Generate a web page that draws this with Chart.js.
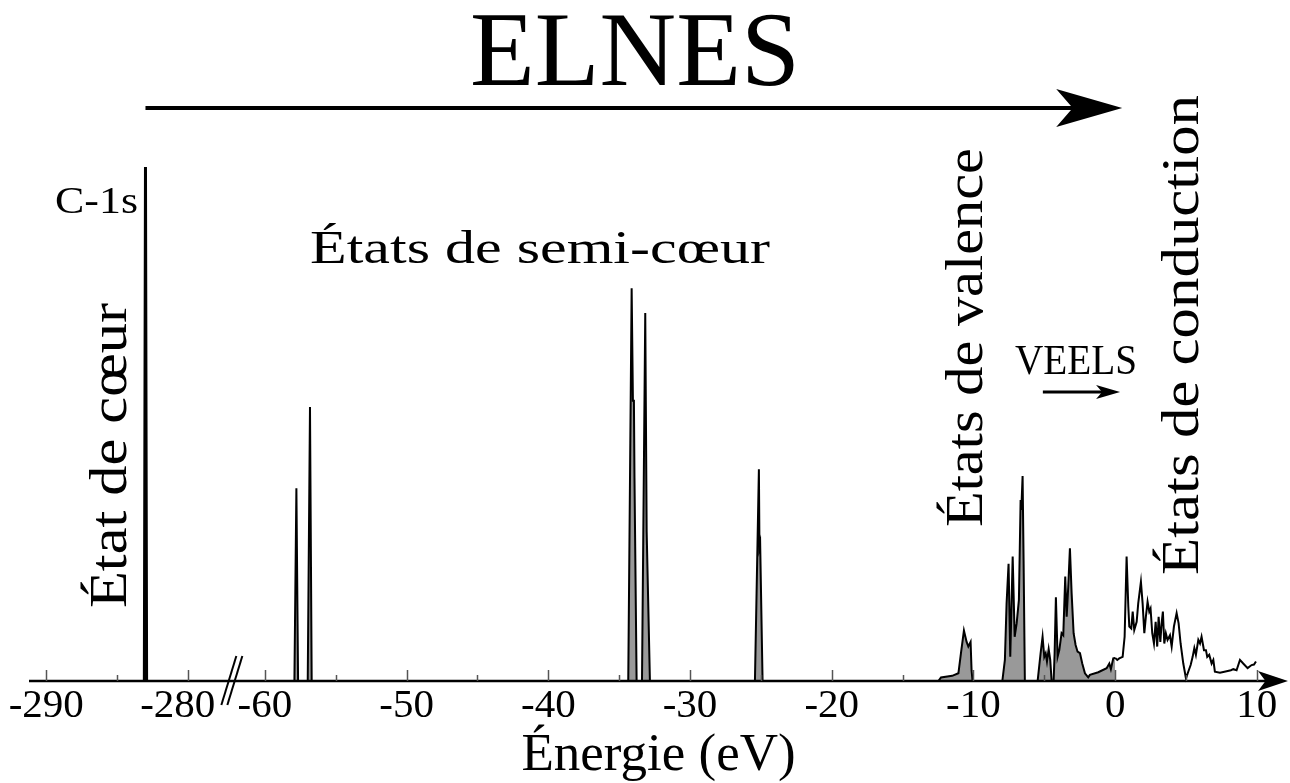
<!DOCTYPE html>
<html>
<head>
<meta charset="utf-8">
<script src="https://cdn.jsdelivr.net/npm/chart.js@4.4.1/dist/chart.umd.min.js"></script>
<style>
  body { margin: 0; background: #fff; }
  #wrap { width: 1290px; height: 783px; }
</style>
</head>
<body>
<div id="wrap"><canvas id="elnes"></canvas></div>
<script>
// C-1s core level (energies in eV, intensity arbitrary)
var coreEnergy = [-283.08, -283.0, -282.92];
var coreIntensity = [0, 1.0, 0];

// semi-core states
var semiCoreEnergy = [-57.92, -57.78, -57.66, -56.98, -56.82, -56.7,
    -34.36, -34.12, -34.03, -33.96, -33.92, -33.77,
    -33.39, -33.16, -33.06, -32.83,
    -25.42, -25.14, -25.1, -25.05, -24.88];
var semiCoreIntensity = [0, 0.375, 0, 0, 0.533, 0,
    0, 0.764, 0.545, 0.545, 0.395, 0,
    0, 0.716, 0.29, 0,
    0, 0.412, 0.26, 0.267, 0];

// valence band (occupied, up to 0 eV)
var valenceEnergy = [-12.6, -12.47, -12.29, -11.5, -11.06, -10.88, -10.67, -10.48, -10.36, -10.2,
    -10.13, -10.06, -7.96, -7.78, -7.66, -7.52, -7.4, -7.23, -7.09, -6.95,
    -6.79, -6.67, -6.62, -6.53, -6.46, -6.37, -5.47, -5.26, -5.12, -5.0,
    -4.9, -4.81, -4.69, -4.58, -4.48, -4.34, -4.27, -4.18, -4.06, -3.94,
    -3.78, -3.66, -3.52, -3.42, -3.31, -3.19, -3.07, -2.93, -2.79, -2.65,
    -2.48, -2.32, -2.13, -1.9, -1.78, -1.19, -0.6, -0.41, -0.3, -0.13, 0];
var valenceIntensity = [0, 0, 0.007, 0.01, 0.015, 0.054, 0.098, 0.076, 0.067, 0.076,
    0.02, 0, 0, 0.041, 0.151, 0.228, 0.047, 0.242, 0.086, 0.112,
    0.158, 0.352, 0.333, 0.399, 0.235, 0, 0, 0.054, 0.086, 0.047,
    0.054, 0.038, 0.062, 0.041, 0, 0, 0.054, 0.163, 0.047, 0.06,
    0.093, 0.089, 0.203, 0.125, 0.183, 0.258, 0.171, 0.093, 0.07, 0.057,
    0.054, 0.034, 0.015, 0.007, 0.012, 0.017, 0.025, 0.034, 0.023, 0.044, 0.045];

// conduction band (empty states)
var conductionEnergy = [0, 0.15, 0.29, 0.53, 0.67, 0.81, 0.93, 1.0, 1.14, 1.24,
    1.35, 1.52, 1.63, 1.82, 1.94, 2.06, 2.17, 2.29, 2.41, 2.5,
    2.62, 2.74, 2.86, 2.97, 3.07, 3.19, 3.28, 3.37, 3.47, 3.58,
    3.7, 3.87, 3.99, 4.15, 4.34, 4.48, 4.62, 4.81, 5.0, 5.16,
    5.33, 5.47, 5.59, 5.7, 5.87, 5.99, 6.1, 6.27, 6.41, 6.5,
    6.64, 6.81, 6.93, 7.04, 7.4, 7.87, 8.17, 8.34, 8.57, 8.81,
    9.04, 9.35, 9.63, 9.8, 9.94];
var conductionIntensity = [0.045, 0.041, 0.044, 0.047, 0.086, 0.242, 0.145, 0.106, 0.102, 0.135,
    0.099, 0.115, 0.151, 0.193, 0.151, 0.093, 0.125, 0.154, 0.135, 0.141,
    0.093, 0.073, 0.115, 0.067, 0.125, 0.076, 0.112, 0.135, 0.073, 0.093,
    0.08, 0.089, 0.067, 0.106, 0.132, 0.112, 0.073, 0.034, 0.005, 0.018,
    0.031, 0.047, 0.064, 0.051, 0.08, 0.073, 0.086, 0.06, 0.06, 0.047,
    0.051, 0.034, 0.041, 0.018, 0.016, 0.019, 0.021, 0.023, 0.021, 0.041,
    0.034, 0.025, 0.031, 0.032, 0.038];

var majorTicks = [-290, -280, -60, -50, -40, -30, -20, -10, 0, 10];
// the -280 label sits a bit left of its tick, before the break mark
var tickLabels = ['-290', '-280\u2002', '-60', '-50', '-40', '-30', '-20', '-10', '0', '10'];
var minorTicks = [-285, -55, -45, -35, -25, -15, -5, 5];

// broken axis: the -290..-280 window is shifted next to -60
var BREAK_SHIFT = 214.57;
var BREAK_AT = -62.3;
var brk = function(e){
    return e < -100 ? e + BREAK_SHIFT : e;
};
var toPoints = function(es, is){
    return es.map(function(e, i){ return {x: brk(e), y: is[i]}; });
};

var majorPos = majorTicks.map(brk);
var minorPos = minorTicks.map(brk);

var SERIF = '"Liberation Serif", "Times New Roman", serif';

// text stretched to a given cap height and width (Computer Modern is wider than Times)
var drawText = function(ctx, str, x, y, cap, width, rotated){
    ctx.font = (cap / 0.66) + 'px ' + SERIF;
    var w = ctx.measureText(str).width;
    ctx.save();
    ctx.translate(x, y);
    if(rotated) ctx.rotate(-Math.PI / 2);
    ctx.scale(width / w, 1);
    ctx.fillStyle = '#000';
    ctx.textAlign = 'left';
    ctx.textBaseline = 'alphabetic';
    ctx.fillText(str, 0, 0);
    ctx.restore();
};

var drawArrow = function(ctx, x1, x2, y, lw, headLen, headHalf){
    ctx.save();
    ctx.strokeStyle = '#000';
    ctx.fillStyle = '#000';
    ctx.lineWidth = lw;
    ctx.beginPath();
    ctx.moveTo(x1, y);
    ctx.lineTo(x2 - headLen * 0.5, y);
    ctx.stroke();
    ctx.beginPath();
    ctx.moveTo(x2, y);
    ctx.lineTo(x2 - headLen, y - headHalf);
    ctx.lineTo(x2 - headLen * 0.75, y);
    ctx.lineTo(x2 - headLen, y + headHalf);
    ctx.closePath();
    ctx.fill();
    ctx.restore();
};

var decorations = {
    id: 'decorations',
    afterDatasetsDraw: function(chart){
        var ctx = chart.ctx;
        var xs = chart.scales.x;
        var y0 = chart.scales.y.getPixelForValue(0);
        var area = chart.chartArea;

        // x axis with arrow
        drawArrow(ctx, area.left, area.right, y0, 2.5, 30, 10);

        // tick marks pointing up
        ctx.save();
        ctx.strokeStyle = '#555';
        ctx.lineWidth = 1.5;
        majorPos.concat(minorPos).forEach(function(v, i){
            var px = Math.round(xs.getPixelForValue(v)) + 0.5;
            var len = i < majorPos.length ? 11 : 6;
            ctx.beginPath();
            ctx.moveTo(px, y0);
            ctx.lineTo(px, y0 - len);
            ctx.stroke();
        });
        ctx.restore();

        // axis break //
        var bx = xs.getPixelForValue(BREAK_AT);
        ctx.save();
        ctx.strokeStyle = '#000';
        ctx.lineWidth = 2;
        [-3, 3].forEach(function(d){
            ctx.beginPath();
            ctx.moveTo(bx + d - 8, y0 + 24);
            ctx.lineTo(bx + d + 7, y0 - 25);
            ctx.stroke();
        });
        ctx.restore();

        // ELNES arrow and VEELS arrow
        drawArrow(ctx, xs.getPixelForValue(brk(-283)), xs.getPixelForValue(0.5), 108, 4, 66, 19);
        drawArrow(ctx, xs.getPixelForValue(-5.1), xs.getPixelForValue(0.35), 392, 3, 24, 7);

        drawText(ctx, 'ELNES', 470, 85, 70, 330, false);
        drawText(ctx, 'C-1s', 55, 213, 25, 83, false);
        drawText(ctx, 'États de semi-cœur', 310, 263, 31, 460, false);
        drawText(ctx, 'VEELS', 1015, 374, 28, 122, false);
        drawText(ctx, 'État de cœur', 126, 608, 35, 305, true);
        drawText(ctx, 'États de valence', 982, 527, 35, 379, true);
        drawText(ctx, 'États de conduction', 1198, 575, 35, 480, true);
    }
};

var lineStyle = {
    borderColor: '#000',
    borderWidth: 2,
    pointRadius: 0,
    tension: 0,
    clip: false
};

var chart = new Chart(document.getElementById('elnes'), {
    type: 'line',
    data: {
        datasets: [
            Object.assign({label: 'C-1s', data: toPoints(coreEnergy, coreIntensity),
                fill: false}, lineStyle, {borderWidth: 3}),
            Object.assign({label: 'Semi-cœur', data: toPoints(semiCoreEnergy, semiCoreIntensity),
                fill: 'origin', backgroundColor: '#999999'}, lineStyle),
            Object.assign({label: 'Valence', data: toPoints(valenceEnergy, valenceIntensity),
                fill: 'origin', backgroundColor: '#999999'}, lineStyle),
            Object.assign({label: 'Conduction', data: toPoints(conductionEnergy, conductionIntensity),
                fill: false}, lineStyle)
        ]
    },
    options: {
        responsive: true,
        maintainAspectRatio: false,
        animation: false,
        layout: {
            padding: {left: 29, right: 2, top: 167, bottom: 0}
        },
        plugins: {
            legend: {display: false},
            tooltip: {enabled: false}
        },
        scales: {
            x: {
                type: 'linear',
                min: -76.65,
                max: 12.2,
                afterBuildTicks: function(scale){
                    scale.ticks = majorPos.concat(minorPos).map(function(v){ return {value: v}; });
                },
                afterFit: function(scale){
                    scale.height = 102;
                },
                grid: {display: false},
                border: {display: false},
                ticks: {
                    autoSkip: false,
                    maxRotation: 0,
                    padding: -7,
                    color: '#000',
                    font: {family: SERIF, size: 41},
                    callback: function(value){
                        var i = majorPos.indexOf(value);
                        return i >= 0 ? tickLabels[i] : '';
                    }
                },
                title: {
                    display: true,
                    text: 'Énergie (eV)',
                    color: '#000',
                    font: {family: SERIF, size: 53, lineHeight: 1.0},
                    padding: 0
                }
            },
            y: {
                display: false,
                min: 0,
                max: 1
            }
        }
    },
    plugins: [decorations]
});
</script>
</body>
</html>
